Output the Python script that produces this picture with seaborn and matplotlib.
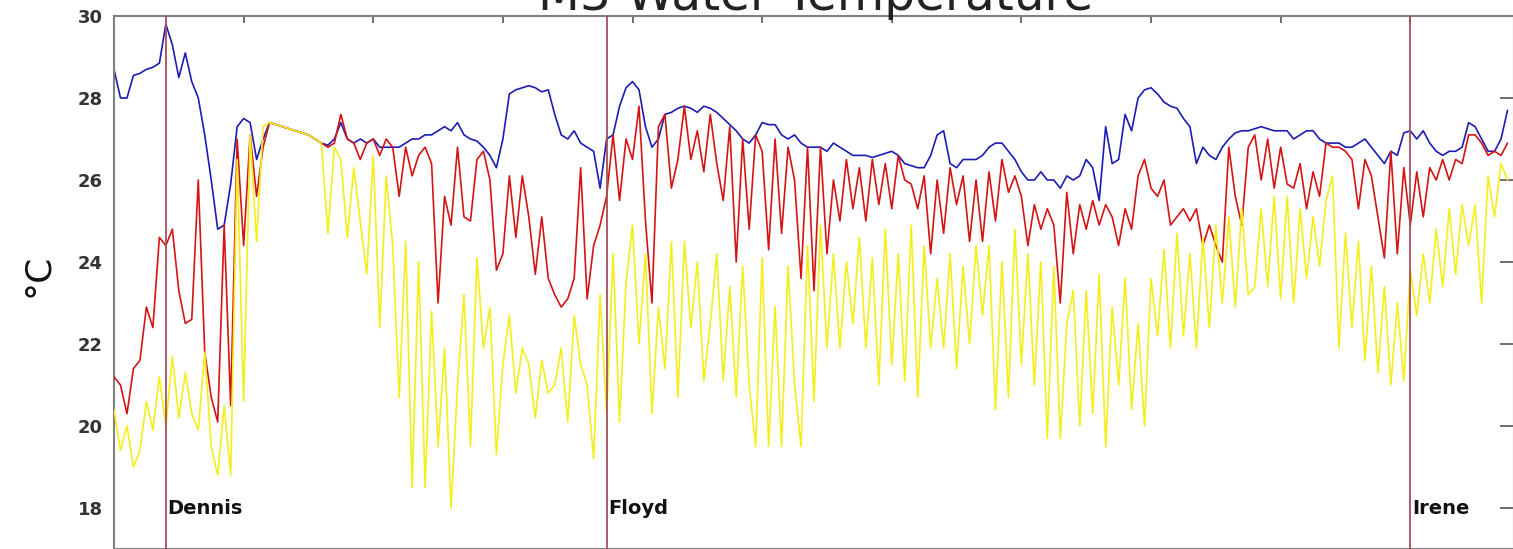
import numpy as np
import pandas as pd
import seaborn as sns
import matplotlib
matplotlib.use('Agg')
from matplotlib import pyplot as plt

# M3 mooring water temperature, 1999 yearday, 6-hourly values
start_day = 240
step = 0.25

surface = [
    28.7, 28.0, 28.0, 28.55,  28.6, 28.7, 28.75, 28.85,  29.8, 29.3, 28.5, 29.1,
    28.4, 28.0, 27.1, 26.0,  24.8, 24.9, 25.9, 27.3,  27.5, 27.4, 26.5, 27.0,
    27.4, 27.35, 27.3, 27.25,  27.2, 27.15, 27.1, 27.0,  26.9, 26.85, 27.0, 27.4,
    27.0, 26.9, 27.0, 26.9,  27.0, 26.8, 26.8, 26.8,  26.8, 26.9, 27.0, 27.0,
    27.1, 27.1, 27.2, 27.3,  27.2, 27.4, 27.1, 27.0,  26.95, 26.8, 26.6, 26.3,
    27.0, 28.1, 28.2, 28.25,  28.3, 28.25, 28.15, 28.2,  27.6, 27.1, 27.0, 27.2,
    26.9, 26.8, 26.7, 25.8,  27.0, 27.1, 27.8, 28.25,  28.4, 28.2, 27.3, 26.8,
    27.0, 27.6, 27.65, 27.75,  27.8, 27.75, 27.65, 27.8,  27.75, 27.65, 27.5, 27.35,
    27.2, 27.0, 26.9, 27.1,  27.4, 27.35, 27.35, 27.1,  27.0, 27.1, 26.9, 26.8,
    26.8, 26.8, 26.7, 26.9,  26.8, 26.7, 26.6, 26.6,  26.6, 26.55, 26.6, 26.65,
    26.7, 26.6, 26.4, 26.35,  26.3, 26.3, 26.6, 27.1,  27.2, 26.4, 26.3, 26.5,
    26.5, 26.5, 26.6, 26.8,  26.9, 26.9, 26.7, 26.5,  26.2, 26.0, 26.0, 26.2,
    26.0, 26.0, 25.8, 26.1,  26.0, 26.1, 26.5, 26.3,  25.5, 27.3, 26.4, 26.5,
    27.6, 27.2, 28.0, 28.2,  28.25, 28.1, 27.9, 27.8,  27.75, 27.5, 27.3, 26.4,
    26.8, 26.6, 26.5, 26.8,  27.0, 27.15, 27.2, 27.2,  27.25, 27.3, 27.25, 27.2,
    27.2, 27.2, 27.0, 27.1,  27.2, 27.2, 27.0, 26.9,  26.9, 26.9, 26.8, 26.8,
    26.9, 27.0, 26.8, 26.6,  26.4, 26.7, 26.6, 27.15,  27.2, 27.0, 27.2, 26.9,
    26.7, 26.6, 26.7, 26.7,  26.8, 27.4, 27.3, 27.0,  26.7, 26.7, 27.0, 27.7,
]

middle = [
    21.2, 21.0, 20.3, 21.4,  21.6, 22.9, 22.4, 24.6,  24.4, 24.8, 23.3, 22.5,
    22.6, 26.0, 21.8, 20.7,  20.1, 24.9, 20.5, 27.0,  24.4, 27.1, 25.6, 26.8,
    27.4, 27.35, 27.3, 27.25,  27.2, 27.15, 27.1, 27.0,  26.9, 26.8, 26.9, 27.6,
    27.0, 26.9, 26.5, 26.9,  27.0, 26.6, 27.0, 26.8,  25.6, 26.8, 26.1, 26.6,
    26.8, 26.4, 23.0, 25.6,  24.9, 26.8, 25.1, 25.0,  26.5, 26.7, 26.0, 23.8,
    24.2, 26.1, 24.6, 26.1,  25.1, 23.7, 25.1, 23.6,  23.2, 22.9, 23.1, 23.6,
    26.3, 23.1, 24.4, 24.9,  25.6, 27.1, 25.5, 27.0,  26.5, 27.8, 25.0, 23.0,
    27.3, 27.6, 25.8, 26.5,  27.8, 26.5, 27.2, 26.2,  27.6, 26.4, 25.5, 27.3,
    24.0, 27.0, 24.8, 27.1,  26.7, 24.3, 27.0, 24.7,  26.8, 26.0, 23.6, 26.8,
    23.3, 26.8, 24.2, 26.0,  25.0, 26.5, 25.3, 26.3,  25.0, 26.5, 25.4, 26.4,
    25.3, 26.6, 26.0, 25.9,  25.3, 26.1, 24.2, 26.0,  24.7, 26.3, 25.4, 26.1,
    24.5, 26.0, 24.5, 26.2,  25.0, 26.5, 25.7, 26.1,  25.6, 24.4, 25.4, 24.8,
    25.3, 24.9, 23.0, 25.7,  24.2, 25.4, 24.8, 25.5,  24.9, 25.4, 25.1, 24.4,
    25.3, 24.8, 26.1, 26.5,  25.8, 25.6, 26.0, 24.9,  25.1, 25.3, 25.0, 25.3,
    24.4, 24.9, 24.4, 24.0,  26.8, 25.6, 24.9, 26.8,  27.1, 26.0, 27.0, 25.8,
    26.8, 25.9, 25.8, 26.4,  25.3, 26.2, 25.6, 26.9,  26.8, 26.8, 26.7, 26.5,
    25.3, 26.5, 26.1, 25.1,  24.1, 26.7, 24.2, 26.3,  24.9, 26.2, 25.1, 26.3,
    26.0, 26.5, 26.0, 26.5,  26.4, 27.1, 27.1, 26.9,  26.6, 26.7, 26.6, 26.9,
]

bottom = [
    20.4, 19.4, 20.0, 19.0,  19.4, 20.6, 19.9, 21.2,  20.0, 21.7, 20.2, 21.3,
    20.3, 19.9, 21.8, 19.5,  18.8, 20.5, 18.8, 26.5,  20.6, 27.1, 24.5, 27.3,
    27.4, 27.35, 27.3, 27.25,  27.2, 27.15, 27.1, 27.0,  26.9, 24.7, 26.8, 26.5,
    24.6, 26.3, 25.0, 23.7,  26.6, 22.4, 26.1, 24.4,  20.7, 24.5, 18.5, 24.0,
    18.5, 22.8, 19.5, 21.9,  18.0, 21.0, 23.2, 19.5,  24.1, 21.9, 22.9, 19.3,
    21.5, 22.7, 20.8, 21.9,  21.5, 20.2, 21.6, 20.8,  21.0, 21.9, 20.1, 22.7,
    21.5, 21.0, 19.2, 23.2,  20.3, 24.2, 20.1, 23.5,  24.9, 22.0, 24.2, 20.3,
    22.9, 21.4, 24.5, 20.7,  24.5, 22.4, 24.0, 21.1,  22.5, 24.2, 21.1, 23.4,
    20.7, 23.9, 21.0, 19.5,  24.1, 19.5, 22.9, 19.5,  23.9, 21.0, 19.5, 24.4,
    20.6, 24.9, 21.9, 24.2,  21.9, 24.0, 22.5, 24.6,  21.9, 24.1, 21.0, 24.8,
    21.5, 24.2, 21.1, 24.9,  20.7, 24.4, 21.9, 23.6,  21.9, 24.2, 21.4, 23.9,
    22.0, 24.4, 22.7, 24.4,  20.4, 24.0, 20.7, 24.8,  21.5, 24.2, 21.0, 24.0,
    19.7, 23.9, 19.7, 22.5,  23.3, 20.0, 23.3, 20.3,  23.7, 19.5, 22.9, 21.0,
    23.6, 20.4, 22.5, 20.0,  23.6, 22.2, 24.3, 21.9,  24.7, 22.2, 24.2, 21.9,
    24.6, 22.4, 24.9, 23.0,  25.1, 22.9, 25.3, 23.2,  23.4, 25.3, 23.4, 25.6,
    23.1, 25.6, 23.0, 25.3,  23.6, 25.1, 23.9, 25.5,  26.1, 21.9, 24.7, 22.4,
    24.5, 21.6, 23.9, 21.3,  23.4, 21.0, 23.0, 21.1,  23.8, 22.7, 24.2, 23.0,
    24.8, 23.4, 25.3, 23.7,  25.4, 24.4, 25.4, 23.0,  26.1, 25.1, 26.4, 26.0,
]

storm_names = ['Dennis', 'Floyd', 'Irene']
storm_days = [242.0, 259.0, 290.0]

days = start_day + step * np.arange(len(surface))
df = pd.DataFrame({'day': days, 'surface': surface,
                   'middle': middle, 'bottom': bottom})

sns.set_style('white')
plt.rcParams['font.family'] = ['DejaVu Sans']

fig = plt.figure(figsize=(15.13, 5.49), dpi=100)
ax = fig.add_axes([114 / 1513, 0, 1400 / 1513, 533 / 549])

sns.lineplot(data=df, x='day', y='surface', color='#1c1cb4', lw=1.2, ax=ax, zorder=2)
sns.lineplot(data=df, x='day', y='middle', color='#d41414', lw=1.2, ax=ax, zorder=3)
sns.lineplot(data=df, x='day', y='bottom', color='#f4ee1c', lw=1.2, ax=ax, zorder=4)

for name, d in zip(storm_names, storm_days):
    ax.axvline(d, color='#a4505a', lw=1.3, zorder=5)
    ax.text(d + 0.07, 18, name, ha='left', va='center',
            fontsize=14, fontweight='bold', color='#111111', zorder=6)

ax.set_xlim(240, 294)
ax.set_ylim(17, 30)
ax.set_xticks(range(240, 295, 5))
ax.set_yticks(range(18, 31, 2))
ax.set_xlabel('')
ax.set_ylabel('')
ax.tick_params(direction='in', top=True, right=True, labelbottom=False,
               color='#555555', labelcolor='#333333', width=1.2)
ax.tick_params(axis='y', length=10, labelsize=13, pad=8)
ax.tick_params(axis='x', length=5)
plt.setp(ax.get_yticklabels(), fontweight='bold')
for s in ax.spines.values():
    s.set_color('#808080')
    s.set_linewidth(1.5)

fig.text(38 / 1513, 1 - 275 / 549, '°C', rotation=90, ha='center', va='center',
         fontsize=26, color='#111111')
fig.text(816 / 1513, 1 - 10 / 549, 'M3 Water Temperature', ha='center',
         va='baseline', fontsize=35, color='#222222')

fig.savefig('out.png', dpi=100)
